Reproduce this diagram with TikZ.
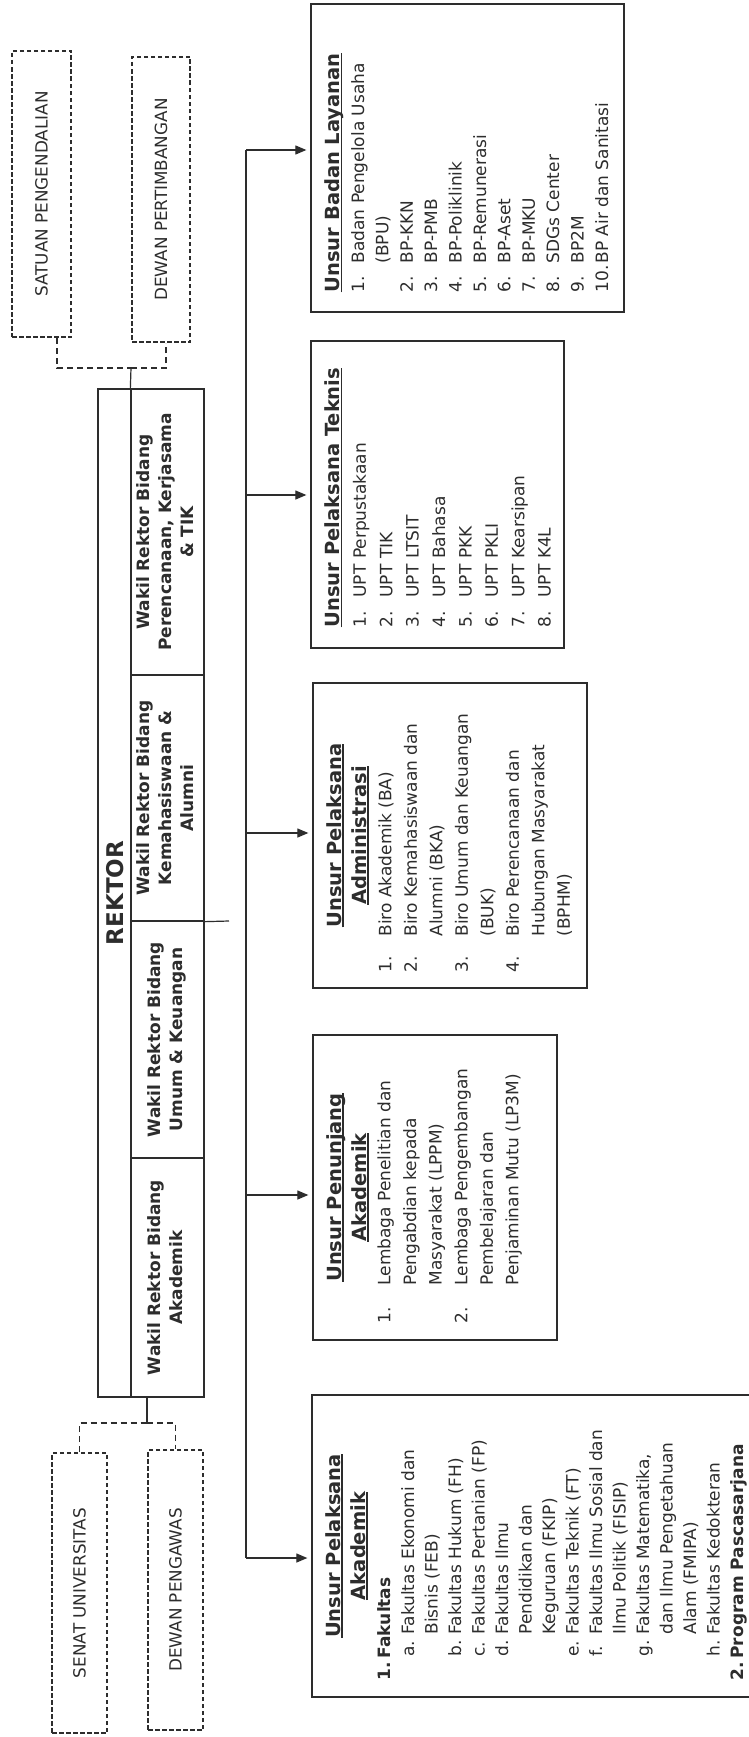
\documentclass[tikz,border=0pt]{standalone}
\usepackage{fontspec}
\setmainfont{DejaVu Sans}
\usepackage{graphicx}
\usetikzlibrary{arrows.meta}
\definecolor{ink}{RGB}{45,45,45}
\newcommand{\ulbf}[1]{\setbox0=\hbox{\bfseries #1}\leavevmode\rlap{\rule[-2.6pt]{\wd0}{1.3pt}}\box0}
\newcommand{\rotup}[1]{\rotatebox{90}{#1}}
\newcommand{\lblfont}{\fontsize{16.8}{20}\selectfont}
\newcommand{\cellfont}{\fontsize{17}{22}\selectfont\bfseries}
\newcommand{\titlefont}{\fontsize{19.5}{25}\selectfont}
\newcommand{\listfont}[1]{\fontsize{17}{#1}\selectfont}
\tikzset{
 ln/.style={draw=ink, line width=1.2pt},
 boxst/.style={draw=ink, line width=1.3pt, inner sep=0pt},
 dashbox/.style={draw=ink, line width=2pt, dash pattern=on 4.5pt off 2.5pt, inner sep=0pt},
 dashln/.style={draw=ink, line width=1.3pt, dash pattern=on 6pt off 4pt},
 arrowst/.style={draw=ink, line width=1.2pt, -{Triangle[length=11pt,width=9pt]}, shorten >=4pt},
}
\begin{document}
\begin{tikzpicture}[x=1pt,y=-1pt, every node/.style={text=ink, inner sep=0pt}]
\fill[white] (0,0) rectangle (749,1737);
\useasboundingbox (0,0) rectangle (749,1737);

% dashed boxes
\node[dashbox, minimum width=59pt, minimum height=286pt] (sp) at (41.5,194) {\rotup{\lblfont SATUAN PENGENDALIAN}};
\node[dashbox, minimum width=58pt, minimum height=285pt] (dp) at (161,199.5) {\rotup{\lblfont DEWAN PERTIMBANGAN}};
\node[dashbox, minimum width=55pt, minimum height=280pt] (su) at (79.5,1593) {\rotup{\lblfont SENAT UNIVERSITAS}};
\node[dashbox, minimum width=55pt, minimum height=280pt] (dpw) at (175.5,1590) {\rotup{\lblfont DEWAN PENGAWAS}};

% REKTOR
\node[boxst, minimum width=106pt, minimum height=1008pt] (rk) at (151,893) {};
\node[font=\fontsize{23}{26}\selectfont\bfseries] (rkt) at (115,893) {\rotup{REKTOR}};
\node[boxst, minimum width=73pt, minimum height=286pt] (c4) at (167.5,532) {\rotup{\cellfont\begin{tabular}{@{}c@{}}Wakil Rektor Bidang\\Perencanaan, Kerjasama\\\& TIK\end{tabular}}};
\node[boxst, minimum width=73pt, minimum height=246pt] (c3) at (167.5,798) {\rotup{\cellfont\begin{tabular}{@{}c@{}}Wakil Rektor Bidang\\Kemahasiswaan \&\\Alumni\end{tabular}}};
\node[boxst, minimum width=73pt, minimum height=237pt] (c2) at (167.5,1039.5) {\rotup{\cellfont\begin{tabular}{@{}c@{}}Wakil Rektor Bidang\\Umum \& Keuangan\end{tabular}}};
\node[boxst, minimum width=73pt, minimum height=239pt] (c1) at (167.5,1277.5) {\rotup{\cellfont\begin{tabular}{@{}c@{}}Wakil Rektor Bidang\\Akademik\end{tabular}}};

% connectors of the side bodies
\coordinate (jt) at (131,368);
\coordinate (jb) at (147,1423);
\draw[dashln] ([xshift=15.5pt]sp.south) |- (jt);
\draw[dashln] (jt) -| ([xshift=5pt]dp.south);
\draw[ln] (jt) -- (c4.north west);
\draw[ln] (jb |- rk.south) -- (jb);
\draw[dashln] (su.north) |- (jb);
\draw[dashln] (jb) -| (dpw.north);

% content boxes
\node[boxst, minimum width=313pt, minimum height=308pt] (bl) at (467.5,158) {};
\node[anchor=south west] (blt) at ([xshift=12pt,yshift=20pt]bl.south west) {\rotup{\listfont{24.4}\begin{tabular}{@{}p{29pt}@{}l@{}}
\multicolumn{2}{@{}l@{}}{\titlefont\ulbf{Unsur Badan Layanan}}\\
1. & Badan Pengelola Usaha\\
 & (BPU)\\
2. & BP-KKN\\
3. & BP-PMB\\
4. & BP-Poliklinik\\
5. & BP-Remunerasi\\
6. & BP-Aset\\
7. & BP-MKU\\
8. & SDGs Center\\
9. & BP2M\\
10. & BP Air dan Sanitasi
\end{tabular}}};

\node[boxst, minimum width=253pt, minimum height=307pt] (tk) at (437.5,494.5) {};
\node[anchor=south west] (tkt) at ([xshift=10.5pt,yshift=21pt]tk.south west) {\rotup{\listfont{26.4}\begin{tabular}{@{}p{30pt}@{}l@{}}
\multicolumn{2}{@{}l@{}}{\titlefont\ulbf{Unsur Pelaksana Teknis}}\\
1. & UPT Perpustakaan\\
2. & UPT TIK\\
3. & UPT LTSIT\\
4. & UPT Bahasa\\
5. & UPT PKK\\
6. & UPT PKLI\\
7. & UPT Kearsipan\\
8. & UPT K4L
\end{tabular}}};

\node[boxst, minimum width=274pt, minimum height=305pt] (ad) at (450,835.5) {};
\node[anchor=west] (adh) at ([xshift=11pt]ad.west) {\rotup{\titlefont\begin{tabular}{@{}c@{}}\ulbf{Unsur Pelaksana}\\\ulbf{Administrasi}\end{tabular}}};
\node[anchor=south west] (adl) at ([xshift=61pt,yshift=16pt]ad.south west) {\rotup{\listfont{25.5}\begin{tabular}{@{}p{36pt}@{}l@{}}
1. & Biro Akademik (BA)\\
2. & Biro Kemahasiswaan dan\\
 & Alumni (BKA)\\
3. & Biro Umum dan Keuangan\\
 & (BUK)\\
4. & Biro Perencanaan dan\\
 & Hubungan Masyarakat\\
 & (BPHM)
\end{tabular}}};

\node[boxst, minimum width=244pt, minimum height=305pt] (pn) at (435,1187.5) {};
\node[anchor=west] (pnh) at ([xshift=11pt]pn.west) {\rotup{\titlefont\begin{tabular}{@{}c@{}}\ulbf{Unsur Penunjang}\\\ulbf{Akademik}\end{tabular}}};
\node[anchor=south west] (pnl) at ([xshift=60pt,yshift=17pt]pn.south west) {\rotup{\listfont{25.6}\begin{tabular}{@{}p{38pt}@{}l@{}}
1. & Lembaga Penelitian dan\\
 & Pengabdian kepada\\
 & Masyarakat (LPPM)\\
2. & Lembaga Pengembangan\\
 & Pembelajaran dan\\
 & Penjaminan Mutu (LP3M)
\end{tabular}}};

\node[boxst, minimum width=468pt, minimum height=302pt] (ak) at (546,1546) {};
\node[anchor=west] (akh) at ([xshift=11pt]ak.west) {\rotup{\titlefont\begin{tabular}{@{}c@{}}\ulbf{Unsur Pelaksana}\\\ulbf{Akademik}\end{tabular}}};
\node[anchor=south west] (akl) at ([xshift=62.5pt,yshift=17pt]ak.south west) {\rotup{\listfont{23.5}\begin{tabular}{@{}p{24pt}@{}p{22pt}@{}l@{}}
\multicolumn{3}{@{}l@{}}{\bfseries\makebox[22pt][l]{1.}Fakultas}\\
 & a. & Fakultas Ekonomi dan\\
 & & Bisnis (FEB)\\
 & b. & Fakultas Hukum (FH)\\
 & c. & Fakultas Pertanian (FP)\\
 & d. & Fakultas Ilmu\\
 & & Pendidikan dan\\
 & & Keguruan (FKIP)\\
 & e. & Fakultas Teknik (FT)\\
 & f. & Fakultas Ilmu Sosial dan\\
 & & Ilmu Politik (FISIP)\\
 & g. & Fakultas Matematika,\\
 & & dan Ilmu Pengetahuan\\
 & & Alam (FMIPA)\\
 & h. & Fakultas Kedokteran\\
\multicolumn{3}{@{}l@{}}{\bfseries\makebox[22pt][l]{2.}Program Pascasarjana}
\end{tabular}}};

% trunk and arrows
\coordinate (a1) at (246,150);
\coordinate (a2) at (246,495);
\coordinate (a3) at (246,833);
\coordinate (a4) at (246,1195);
\coordinate (a5) at (246,1558);
\coordinate (rkend) at (229,921);
\draw[ln] (a1) -- (a5);
\draw[ln] (c3.south east) -- (rkend);
\draw[arrowst] (a1) -- (a1 -| bl.west);
\draw[arrowst] (a2) -- (a2 -| tk.west);
\draw[arrowst] (a3) -- (a3 -| ad.west);
\draw[arrowst] (a4) -- (a4 -| pn.west);
\draw[arrowst] (a5) -- (a5 -| ak.west);
\end{tikzpicture}
\end{document}
